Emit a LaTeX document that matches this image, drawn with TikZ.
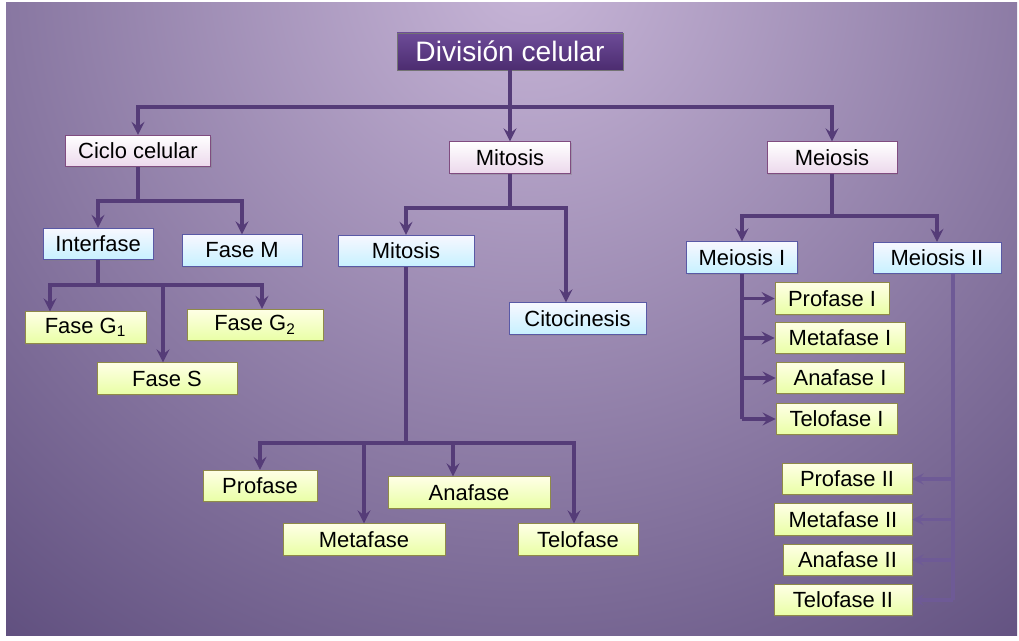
\documentclass[tikz,border=0pt]{standalone}
\usepackage{fontspec}
\setmainfont{Liberation Sans}
\usetikzlibrary{shadows}

\definecolor{bglight}{HTML}{C8B6D8}
\definecolor{bgdark}{HTML}{3C2C60}
\definecolor{linkpurple}{HTML}{553C78}
\definecolor{linkpale}{HTML}{6E5A96}
\definecolor{roottop}{HTML}{6D4C98}
\definecolor{rootbot}{HTML}{4C2C70}

\begin{document}
\begin{tikzpicture}[x=0.02cm,y=-0.02cm,>=stealth,
  link/.style={draw=linkpurple,line width=2.2pt},
  thin link/.style={draw=linkpale,line width=1.8pt},
  box/.style={rectangle,inner sep=0pt,minimum height=0.63cm,font=\fontsize{12.5}{14}\selectfont,
    drop shadow={opacity=0.35,shadow xshift=0.8pt,shadow yshift=-0.8pt}},
  root node/.style={box,draw=black!55,top color=roottop,bottom color=rootbot,
    text=white,minimum height=0.74cm,font=\fontsize{16}{18}\selectfont},
  lav node/.style={box,draw=violet!40!gray,top color=white,bottom color=violet!15},
  blue node/.style={box,draw=blue!30!gray,top color=blue!3,bottom color=blue!25!cyan!22},
  green node/.style={box,draw=olive!50!gray,top color=yellow!10,bottom color=green!25!yellow!35}]

% background
\fill[white] (0,0) rectangle (1019,641);
\begin{scope}
  \clip (6,3) rectangle (1017,636);
  \shade[inner color=bglight,outer color=bgdark] (530,-30) circle (1150);
\end{scope}

% nodes
\node[root node,minimum width=4.52cm] (div) at (510,51.5) {División celular};

\node[lav node,minimum width=2.9cm] (ciclo) at (138,151) {Ciclo celular};
\node[lav node,minimum width=2.42cm] (mitA) at (510,157.5) {Mitosis};
\node[lav node,minimum width=2.6cm] (meio) at (832,157.5) {Meiosis};

\node[blue node,minimum width=2.2cm] (inter) at (98,244) {Interfase};
\node[blue node,minimum width=2.4cm] (faseM) at (242,250.5) {Fase M};
\node[blue node,minimum width=2.72cm] (mitB) at (406,251) {Mitosis};
\node[blue node,minimum width=2.74cm] (cito) at (577.5,318.5) {Citocinesis};
\node[blue node,minimum width=2.22cm] (meioI) at (742,257.5) {Meiosis I};
\node[blue node,minimum width=2.56cm] (meioII) at (937,258) {Meiosis II};

\node[green node,minimum width=2.42cm] (G1) at (85.5,327.5) {Fase G\textsubscript{1}};
\node[green node,minimum width=2.72cm] (G2) at (255,325) {Fase G\textsubscript{2}};
\node[green node,minimum width=2.8cm] (S) at (167,378.5) {Fase S};

\node[green node,minimum width=2.28cm] (profase) at (260,486) {Profase};
\node[green node,minimum width=3.24cm] (metafase) at (364,539.5) {Metafase};
\node[green node,minimum width=3.24cm] (anafase) at (469,492.5) {Anafase};
\node[green node,minimum width=2.4cm] (telofase) at (578,539.5) {Telofase};

\node[green node,minimum width=2.28cm] (proI) at (832,298.5) {Profase I};
\node[green node,minimum width=2.6cm] (metI) at (840,338) {Metafase I};
\node[green node,minimum width=2.56cm] (anaI) at (840,378) {Anafase I};
\node[green node,minimum width=2.42cm] (telI) at (836.5,419) {Telofase I};

\node[green node,minimum width=2.6cm] (proII) at (847,479) {Profase II};
\node[green node,minimum width=2.76cm] (metII) at (843,519.5) {Metafase II};
\node[green node,minimum width=2.58cm] (anaII) at (847.5,560) {Anafase II};
\node[green node,minimum width=2.76cm] (telII) at (843,600) {Telofase II};

% top level
\coordinate (b0) at (510,107);
\draw[link] (div) -- (b0);
\draw[link,->] (b0) -| (ciclo);
\draw[link,->] (b0) -- (mitA);
\draw[link,->] (b0) -| (meio);

% ciclo celular
\coordinate (b1) at (138,201);
\draw[link] (ciclo) -- (b1);
\draw[link,->] (b1) -| (inter);
\draw[link,->] (b1) -| (faseM);

\coordinate (b2) at (98,285);
\draw[link] (inter) -- (b2);
\draw[link,->] (b2) -| ([xshift=-0.71cm]G1.north);
\draw[link,->] (b2) -| ([xshift=0.14cm]G2.north);
\draw[link,->] (b2) -| ([xshift=-0.08cm]S.north);

% mitosis
\coordinate (b3) at (510,208);
\draw[link] (mitA) -- (b3);
\draw[link,->] (b3) -| (mitB);
\draw[link,->] (b3) -| ([xshift=-0.23cm]cito.north);

\coordinate (b4) at (406,443);
\draw[link] (mitB) -- (b4);
\draw[link,->] (b4) -| (profase);
\draw[link,->] (b4) -| (metafase);
\draw[link,->] (b4) -| ([xshift=-0.32cm]anafase.north);
\draw[link,->] (b4) -| ([xshift=-0.08cm]telofase.north);

% meiosis
\coordinate (b5) at (832,216);
\draw[link] (meio) -- (b5);
\draw[link,->] (b5) -| (meioI);
\draw[link,->] (b5) -| (meioII);

\draw[link] (meioI) -- (meioI |- telI);
\foreach \n in {proI,metI,anaI,telI}
  \draw[link,->] (meioI |- \n) -- (\n);

\coordinate (t2) at ([xshift=0.32cm]meioII.south);
\draw[thin link] (t2) -- (t2 |- telII);
\foreach \n in {proII,metII,anaII,telII}
  \draw[thin link,->] (t2 |- \n) -- (\n);

\end{tikzpicture}
\end{document}
